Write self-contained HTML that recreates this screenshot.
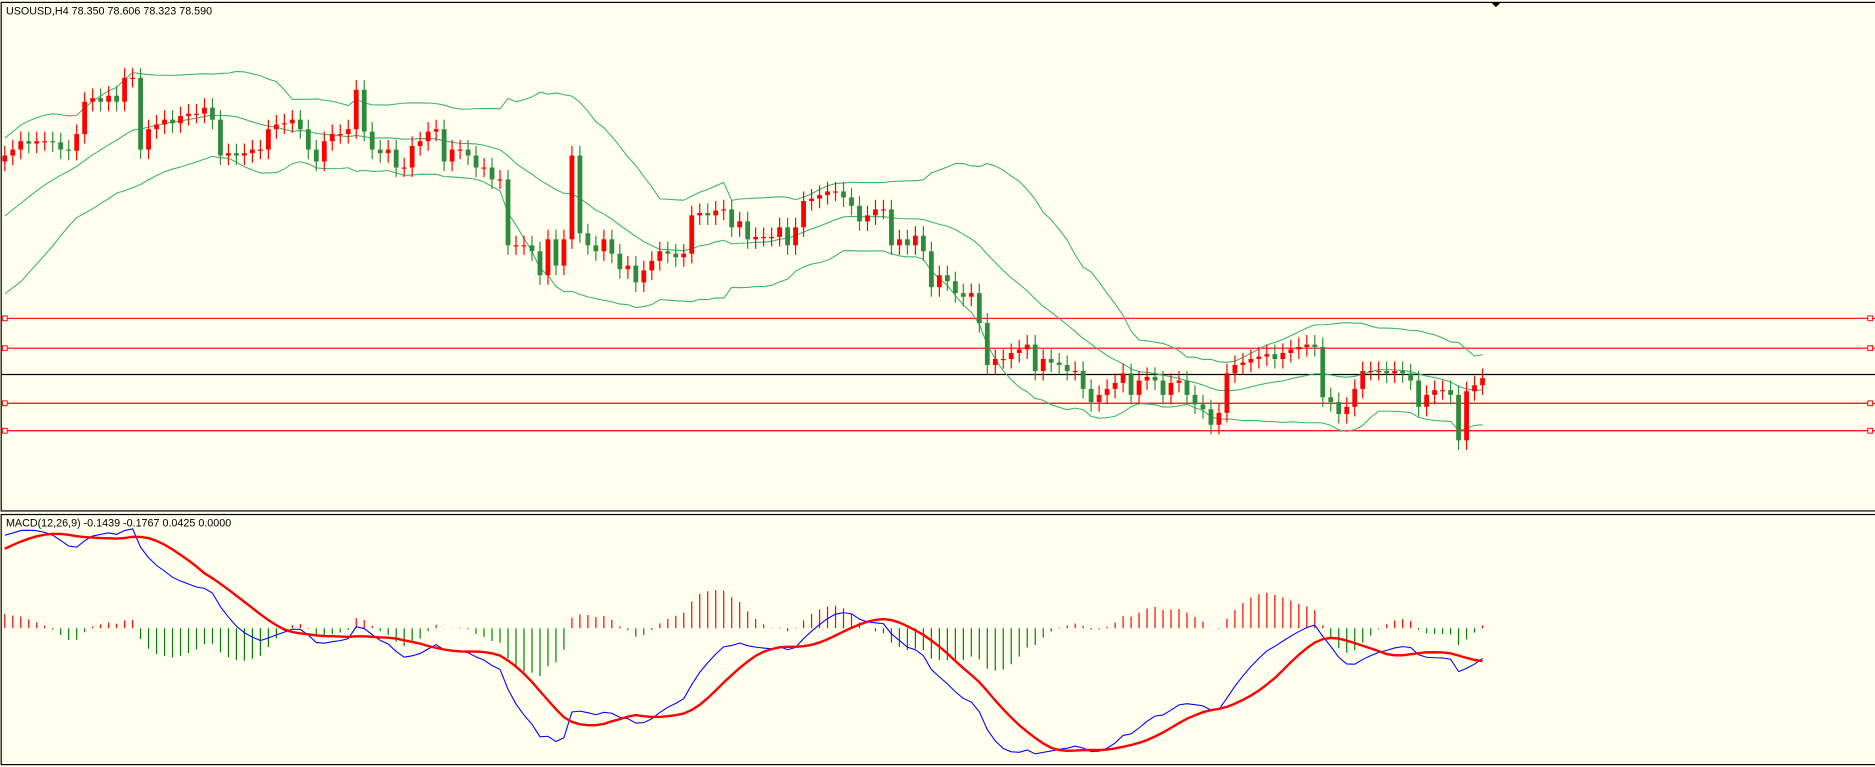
<!DOCTYPE html>
<html><head><meta charset="utf-8"><style>
html,body{margin:0;padding:0;background:#fffff0;overflow:hidden}
svg{display:block}
text{font-family:"Liberation Sans",sans-serif;font-size:9px;fill:#000}
</style></head><body>
<svg id="chart" width="1875" height="767" viewBox="0 0 1568 641" preserveAspectRatio="none" xmlns="http://www.w3.org/2000/svg">
<rect x="0" y="0" width="1568" height="641" fill="#fffff0"/>
<rect x="1" y="2" width="1570" height="425" fill="none" stroke="#000" stroke-width="1"/>
<rect x="1" y="430" width="1570" height="209" fill="none" stroke="#000" stroke-width="1"/>
<path d="M1247 2 L1255 2 L1251 6 Z" fill="#000"/>
<g id="hlines"></g>
<g id="bands"></g>
<g id="candles"></g>
<g id="macd"></g>
<text x="5" y="12">USOUSD,H4  78.350 78.606 78.323 78.590</text>
<text x="5" y="440">MACD(12,26,9) -0.1439 -0.1767 0.0425 0.0000</text>
</svg>
<script>
// Bars before the visible window (history used for indicators)
const priorCloses = [79.20,79.25,79.22,79.30,79.35,79.32,79.40,79.45,79.50,79.48,79.55,79.62,79.68,79.72,79.80,79.86,79.92,79.98,80.05,80.10,80.16,80.22,80.28,80.32,80.36,80.40];
// Closing prices per visible H4 bar
const closes = [80.45,80.50,80.57,80.55,80.57,80.57,80.56,80.50,80.49,80.63,80.90,80.93,80.90,80.95,80.90,81.10,81.10,80.50,80.67,80.71,80.75,80.72,80.78,80.80,80.80,80.85,80.75,80.45,80.47,80.45,80.47,80.50,80.50,80.67,80.71,80.72,80.75,80.67,80.50,80.40,80.57,80.63,80.63,80.67,81.00,80.65,80.50,80.47,80.50,80.35,80.35,80.53,80.57,80.65,80.67,80.40,80.50,80.50,80.45,80.35,80.35,80.25,80.25,79.70,79.70,79.70,79.65,79.45,79.75,79.53,79.75,80.45,79.80,79.70,79.65,79.75,79.63,79.50,79.53,79.39,79.49,79.57,79.65,79.63,79.60,79.63,79.95,79.97,79.95,79.99,80.00,79.85,79.90,79.75,79.77,79.77,79.77,79.85,79.70,79.85,80.07,80.09,80.12,80.15,80.15,80.10,80.03,79.90,79.95,80.00,80.00,79.70,79.75,79.70,79.78,79.65,79.35,79.45,79.40,79.30,79.27,79.30,79.05,78.70,78.75,78.75,78.80,78.83,78.87,78.65,78.75,78.72,78.70,78.65,78.65,78.50,78.39,78.45,78.50,78.55,78.63,78.45,78.57,78.60,78.57,78.45,78.55,78.57,78.45,78.37,78.33,78.20,78.30,78.63,78.70,78.72,78.75,78.77,78.79,78.75,78.80,78.83,78.85,78.87,78.85,78.43,78.39,78.29,78.35,78.50,78.65,78.65,78.65,78.63,78.65,78.63,78.57,78.35,78.45,78.49,78.49,78.45,78.07,78.48,78.53,78.59];
const levelPrices = [79.09, 78.84, 78.38, 78.15];
const currentLine = [78.62];

const NS = "http://www.w3.org/2000/svg";
const X0 = 4, DX = 6.68;
const yP = p => (81.75 - p) * 100;
const xI = i => X0 + i * DX;
function mk(tag, attrs, parent){ const e = document.createElementNS(NS, tag); for (const k in attrs) e.setAttribute(k, attrs[k]); parent.appendChild(e); return e; }

const hl = document.getElementById('hlines');
levelPrices.forEach(p => {
  const y = yP(p);
  const l = mk('line', {x1:1, x2:1568, y1:y, y2:y, stroke:'#ff0000', 'stroke-width':1}, hl);
  
  
  [4, 1564].forEach(x => {
    const r = mk('rect', {x:x-2, y:y-2, width:4, height:4, fill:'#fffff0', stroke:'#ff0000', 'stroke-width':0.8}, hl);
    
    
  });
});
currentLine.forEach(p => {
  const l = mk('line', {x1:1, x2:1568, y1:yP(p), y2:yP(p), stroke:'#000', 'stroke-width':1}, hl);
  
  
});

const all = priorCloses.concat(closes);
const P = priorCloses.length;
const mid = [], up = [], lo = [];
closes.forEach((c, j) => {
  const i = j + P;
  const s = all.slice(Math.max(0, i - 19), i + 1);
  const m = s.reduce((a, b) => a + b, 0) / s.length;
  const sd = Math.sqrt(s.reduce((a, b) => a + (b - m) * (b - m), 0) / s.length);
  mid.push(m); up.push(m + 2 * sd); lo.push(m - 2 * sd);
});
const bg = document.getElementById('bands');
[[up,'bb-upper'],[mid,'bb-middle'],[lo,'bb-lower']].forEach(([arr, nm]) => {
  const d = arr.map((v, i) => (i ? 'L' : 'M') + xI(i).toFixed(1) + ' ' + yP(v).toFixed(1)).join(' ');
  const p = mk('path', {d, fill:'none', stroke:'#3cb371', 'stroke-width':0.9}, bg);
  
  
});

const cg = document.getElementById('candles');
closes.forEach((c, i) => {
  const o = all[i + P - 1];
  const x = xI(i);
  const bull = c >= o;
  const col = bull ? '#ff0000' : '#2e8b3e';
  const hi = Math.max(o, c) + 0.08, lw = Math.min(o, c) - 0.08;
  const w = mk('line', {x1:x, x2:x, y1:yP(hi), y2:yP(lw), stroke:col, 'stroke-width':1}, cg);
  
  
  const top = yP(Math.max(o, c)), h = Math.max(1, Math.abs(yP(o) - yP(c)));
  const b = mk('rect', {x:x-2, y:top, width:4, height:h, fill:col}, cg);
  
  
});

function ema(arr, n){ const k = 2 / (n + 1); const out = []; arr.forEach((v, i) => out.push(i ? v * k + out[i-1] * (1 - k) : v)); return out; }
const e12 = ema(all, 12), e26 = ema(all, 26);
const macdAll = e12.map((v, i) => v - e26[i]);
const sigAll = macdAll.map((v, i) => { const s = macdAll.slice(Math.max(0, i - 8), i + 1); return s.reduce((a, b) => a + b, 0) / s.length; });
const macd = macdAll.slice(P), signal = sigAll.slice(P);
const hist = macd.map((v, i) => v - signal[i]);
const mMin = Math.min(...macd, ...signal), mMax = Math.max(...macd, ...signal);
const yM = v => 630 - (v - mMin) / (mMax - mMin) * 188;
const hMax = Math.max(...hist.map(Math.abs));
const yH = v => 525 - v / hMax * 40;
const mg = document.getElementById('macd');
hist.forEach((v, i) => {
  const l = mk('line', {x1:xI(i), x2:xI(i), y1:525, y2:yH(v), stroke: v >= 0 ? '#ff0000' : '#008000', 'stroke-width':1}, mg);
  
  
});
const dM = macd.map((v, i) => (i ? 'L' : 'M') + xI(i).toFixed(1) + ' ' + yM(v).toFixed(1)).join(' ');
const pm = mk('path', {d:dM, fill:'none', stroke:'#0000ff', 'stroke-width':0.9}, mg);


const dS = signal.map((v, i) => (i ? 'L' : 'M') + xI(i).toFixed(1) + ' ' + yM(v).toFixed(1)).join(' ');
const ps = mk('path', {d:dS, fill:'none', stroke:'#ff0000', 'stroke-width':2}, mg);


</script>
</body></html>
